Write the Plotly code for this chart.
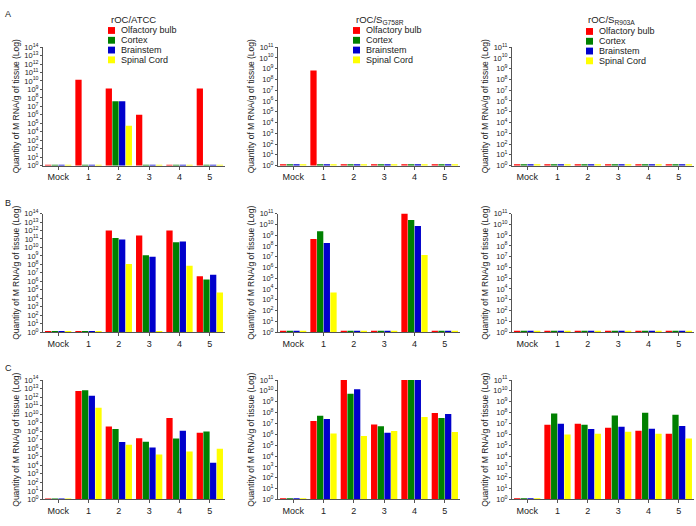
import plotly.graph_objects as go

W, H = 696, 526

categories = ["Mock", "1", "2", "3", "4", "5"]
tissues = ["Olfactory bulb", "Cortex", "Brainstem", "Spinal Cord"]
colors = ["#ff0000", "#008000", "#0000cc", "#ffff00"]
ND = 1.3  # not detected (drawn at the baseline)

# Row A
A1_olf = [ND, 1.4e10, 1.3e9, 1.0e6, ND, 1.3e9]
A1_ctx = [ND, ND, 4.0e7, ND, ND, ND]
A1_brs = [ND, ND, 4.0e7, ND, ND, ND]
A1_spc = [ND, ND, 5.0e4, ND, ND, ND]
A2_olf = [ND, 6.6e8, ND, ND, ND, ND]
A2_ctx = [ND, ND, ND, ND, ND, ND]
A2_brs = [ND, ND, ND, ND, ND, ND]
A2_spc = [ND, ND, ND, ND, ND, ND]
A3_olf = [ND, ND, ND, ND, ND, ND]
A3_ctx = [ND, ND, ND, ND, ND, ND]
A3_brs = [ND, ND, ND, ND, ND, ND]
A3_spc = [ND, ND, ND, ND, ND, ND]
# Row B
B1_olf = [ND, ND, 1.0e12, 2.5e11, 1.0e12, 4.0e6]
B1_ctx = [ND, ND, 1.3e11, 1.2e9, 4.2e10, 1.6e6]
B1_brs = [ND, ND, 8.5e10, 8.0e8, 5.0e10, 6.0e6]
B1_spc = [ND, ND, 1.1e8, ND, 7.0e7, 4.8e4]
B2_olf = [ND, 4.3e8, ND, ND, 1.0e11, ND]
B2_ctx = [ND, 2.3e9, ND, ND, 2.5e10, ND]
B2_brs = [ND, 1.9e8, ND, ND, 7.0e9, ND]
B2_spc = [ND, 4.6e3, ND, ND, 1.4e7, ND]
B3_olf = [ND, ND, ND, ND, ND, ND]
B3_ctx = [ND, ND, ND, ND, ND, ND]
B3_brs = [ND, ND, ND, ND, ND, ND]
B3_spc = [ND, ND, ND, ND, ND, ND]
# Row C
C1_olf = [ND, 5.0e12, 3.6e8, 1.5e7, 3.5e9, 6.7e7]
C1_ctx = [ND, 6.5e12, 1.8e8, 6.0e6, 1.4e7, 9.5e7]
C1_brs = [ND, 1.4e12, 5.6e6, 1.2e6, 1.1e8, 2.0e4]
C1_spc = [ND, 5.5e10, 2.5e6, 1.8e5, 4.3e5, 9.0e5]
C2_olf = [ND, 1.7e7, 1.0e11, 8.0e6, 1.0e11, 9.0e7]
C2_ctx = [ND, 5.2e7, 5.3e9, 5.6e6, 1.0e11, 3.2e7]
C2_brs = [ND, 2.6e7, 1.4e10, 1.4e6, 1.0e11, 7.4e7]
C2_spc = [ND, 1.2e6, 6.9e5, 2.0e6, 4.0e7, 1.6e6]
C3_olf = [ND, 7.6e6, 9.4e6, 4.0e6, 2.1e6, 1.1e6]
C3_ctx = [ND, 8.3e7, 7.6e6, 5.5e7, 9.5e7, 6.3e7]
C3_brs = [ND, 9.4e6, 3.0e6, 5.0e6, 3.2e6, 5.7e6]
C3_spc = [ND, 9.8e5, 1.1e6, 1.7e6, 1.1e6, 4.2e5]

panel_titles = ["rOC/ATCC", "rOC/S<sub>G758R</sub>", "rOC/S<sub>R903A</sub>"]
row_letters = ["A", "B", "C"]
y_title = "Quantity of M RNA/g of tissue (Log)"

panels = [
    [[A1_olf, A1_ctx, A1_brs, A1_spc], [A2_olf, A2_ctx, A2_brs, A2_spc], [A3_olf, A3_ctx, A3_brs, A3_spc]],
    [[B1_olf, B1_ctx, B1_brs, B1_spc], [B2_olf, B2_ctx, B2_brs, B2_spc], [B3_olf, B3_ctx, B3_brs, B3_spc]],
    [[C1_olf, C1_ctx, C1_brs, C1_spc], [C2_olf, C2_ctx, C2_brs, C2_spc], [C3_olf, C3_ctx, C3_brs, C3_spc]],
]
max_exp = [14, 11, 11]

FONT = "Arial, Liberation Sans, sans-serif"

def px(x):
    return x / W

def py(y):
    return 1 - y / H

col_x = [(43, 225), (278, 460), (512, 694)]
row_y = [(42, 163), (212, 333), (382, 504)]

fig = go.Figure()
layout = dict(
    width=W, height=H,
    margin=dict(l=0, r=0, t=0, b=0),
    paper_bgcolor="white", plot_bgcolor="white",
    showlegend=False,
    barmode="group", bargap=0.12, bargroupgap=0.06,
    font=dict(family=FONT, color="#222"),
)
annotations = []
shapes = []

for r in range(3):
    for c in range(3):
        idx = r * 3 + c + 1
        xa = "x" if idx == 1 else f"x{idx}"
        ya = "y" if idx == 1 else f"y{idx}"
        for t in range(4):
            fig.add_trace(go.Bar(
                x=categories, y=panels[r][c][t], name=tissues[t],
                marker=dict(color=colors[t], line=dict(width=0)),
                xaxis=xa, yaxis=ya,
            ))
        me = max_exp[c]
        tv = [10 ** k for k in range(0, me + 1)]
        tt = [f"10<sup>{k}</sup>" for k in range(0, me + 1)]
        layout["xaxis" if idx == 1 else f"xaxis{idx}"] = dict(
            domain=[px(col_x[c][0]), px(col_x[c][1])],
            anchor=ya, type="category", range=[-0.5, 5.5],
            showline=True, linecolor="#555", linewidth=1,
            ticks="outside", ticklen=3, tickcolor="#555",
            tickfont=dict(size=9, family=FONT, color="#222"),
            showgrid=False, zeroline=False,
        )
        layout["yaxis" if idx == 1 else f"yaxis{idx}"] = dict(
            domain=[py(row_y[r][1]), py(row_y[r][0])],
            anchor=xa, type="log", range=[0, me],
            tickvals=tv, ticktext=tt,
            showline=True, linecolor="#555", linewidth=1,
            ticks="outside", ticklen=2, tickcolor="#555",
            tickfont=dict(size=7.5, family=FONT, color="#222"),
            showgrid=False, zeroline=False,
        )
        # y axis title
        yc = (row_y[r][0] + row_y[r][1]) / 2
        annotations.append(dict(
            x=px(col_x[c][0] - 27), y=py(yc), xref="paper", yref="paper",
            text=y_title, textangle=-90, showarrow=False,
            font=dict(size=8.5, family=FONT, color="#222"),
            xanchor="center", yanchor="middle",
        ))

# panel titles
title_x = [133, 380, 611]
for c in range(3):
    annotations.append(dict(
        x=px(title_x[c]), y=py(14), xref="paper", yref="paper",
        text=panel_titles[c], showarrow=False,
        font=dict(size=9.5, family=FONT, color="#222"),
        xanchor="center", yanchor="middle",
    ))

# row letters
letter_y = [8, 201, 370]
for r in range(3):
    annotations.append(dict(
        x=px(3), y=py(letter_y[r]), xref="paper", yref="paper",
        text=row_letters[r], showarrow=False,
        font=dict(size=9, family=FONT, color="#222"),
        xanchor="left", yanchor="middle",
    ))

# legends (one per panel in row A)
leg_x = [108, 353, 586]
leg_y0 = [25, 25, 26]
for c in range(3):
    for t in range(4):
        yc = leg_y0[c] + t * 10
        shapes.append(dict(
            type="rect", xref="paper", yref="paper",
            x0=px(leg_x[c]), x1=px(leg_x[c] + 7),
            y0=py(yc + 3.5), y1=py(yc - 3.5),
            fillcolor=colors[t], line=dict(width=0),
        ))
        annotations.append(dict(
            x=px(leg_x[c] + 11), y=py(yc), xref="paper", yref="paper",
            text=tissues[t], showarrow=False,
            font=dict(size=9, family=FONT, color="#222"),
            xanchor="left", yanchor="middle",
        ))

layout["annotations"] = annotations
layout["shapes"] = shapes
fig.update_layout(**layout)
fig.write_html(
    "out.html",
    config={"displayModeBar": False},
    post_script="document.body.style.margin='0';document.body.style.padding='0';",
)
